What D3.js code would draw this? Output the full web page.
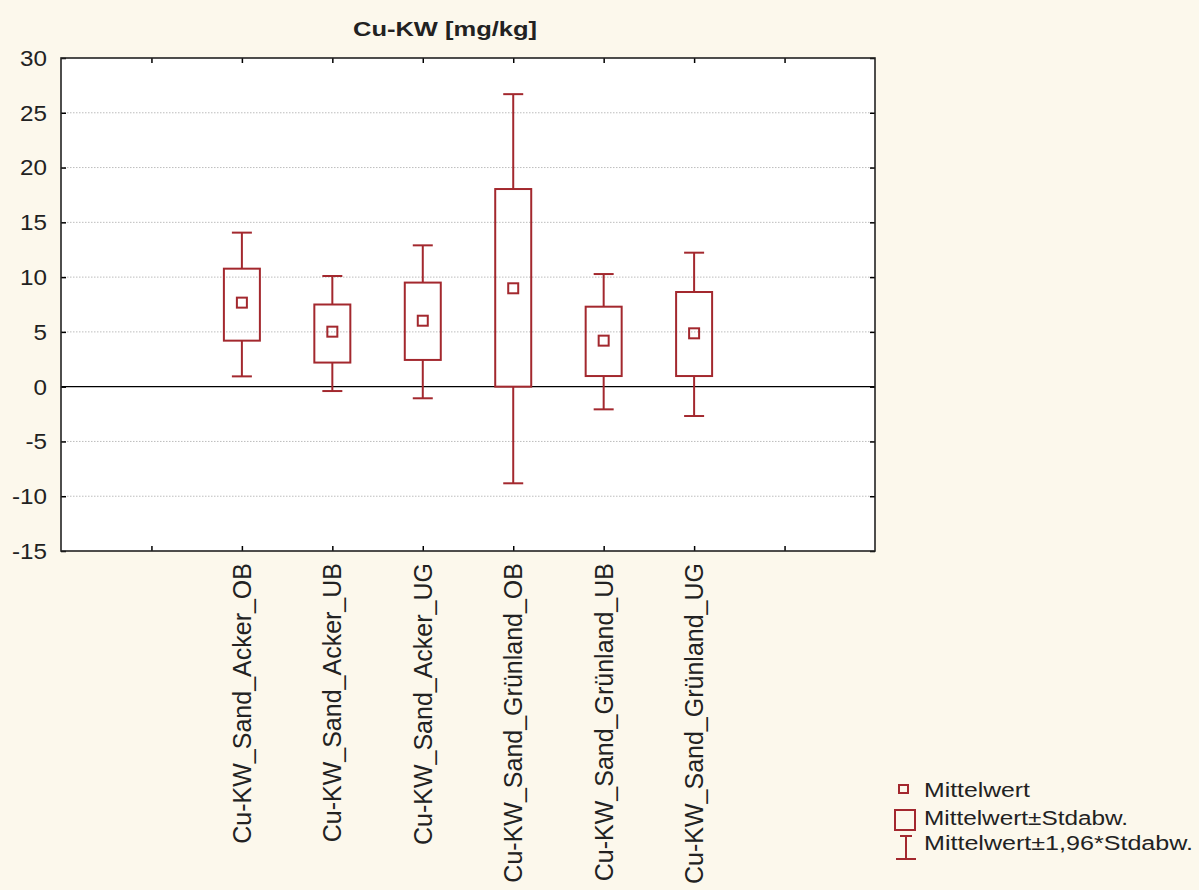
<!DOCTYPE html>
<html>
<head>
<meta charset="utf-8">
<script src="https://cdn.jsdelivr.net/npm/d3@7"></script>
<style>
  html, body { margin: 0; padding: 0; background: #fcf8ec; }
  svg { display: block; }
  text { font-family: "Liberation Sans", Arial, sans-serif; fill: #222; }
</style>
</head>
<body>
<svg id="chart" width="1199" height="890"></svg>
<script>
const categories = [
  "Cu-KW_Sand_Acker_OB",
  "Cu-KW_Sand_Acker_UB",
  "Cu-KW_Sand_Acker_UG",
  "Cu-KW_Sand_Grünland_OB",
  "Cu-KW_Sand_Grünland_UB",
  "Cu-KW_Sand_Grünland_UG"
];
const means  = [7.67, 5.02, 6.02, 8.98, 4.2, 4.87];
const sdLow  = [4.2, 2.2, 2.44, 0.0, 0.97, 0.97];
const sdHigh = [10.77, 7.5, 9.5, 18.04, 7.3, 8.64];
const ciLow  = [0.94, -0.4, -1.06, -8.82, -2.07, -2.68];
const ciHigh = [14.06, 10.1, 12.9, 26.7, 10.28, 12.23];
const yTicks = [-15, -10, -5, 0, 5, 10, 15, 20, 25, 30];
const xSlots = [1, 2, 3, 4, 5, 6, 7, 8];
const title = "Cu-KW [mg/kg]";
const legendLabels = ["Mittelwert", "Mittelwert±Stdabw.", "Mittelwert±1,96*Stdabw."];

const color = "#a3282e";
const L = 61, R = 875, T = 58, B = 551;
const svg = d3.select("#chart");

const x = d3.scaleLinear().domain([0, 9]).range([L, R]);
const y = d3.scaleLinear().domain([-15, 30]).range([B, T]);

// plot background
svg.append("rect").attr("x", L).attr("y", T).attr("width", R - L).attr("height", B - T).attr("fill", "#ffffff");

// grid lines
svg.append("g").selectAll("line").data(yTicks.filter(v => v !== 0 && v !== 30 && v !== -15)).join("line")
  .attr("x1", L).attr("x2", R).attr("y1", d => y(d)).attr("y2", d => y(d))
  .attr("stroke", "#bdbdbd").attr("stroke-width", 1).attr("stroke-dasharray", "1.5,1.5");

// zero line
svg.append("line").attr("x1", L).attr("x2", R).attr("y1", y(0)).attr("y2", y(0))
  .attr("stroke", "#000").attr("stroke-width", 1.2);

// axes with inward ticks
const yLeft = d3.axisLeft(y).tickValues(yTicks).tickSize(-5).tickFormat("");
const yRight = d3.axisRight(y).tickValues(yTicks).tickSize(-5).tickFormat("");
const xTop = d3.axisTop(x).tickValues(xSlots).tickSize(-5).tickFormat("");
const xBottom = d3.axisBottom(x).tickValues(xSlots).tickSize(-5).tickFormat("");
function styleAxis(g) {
  g.select(".domain").remove();
  g.selectAll(".tick line").attr("stroke", "#000").attr("stroke-width", 1.5);
}
svg.append("g").attr("transform", `translate(${L},0)`).call(yLeft).call(styleAxis);
svg.append("g").attr("transform", `translate(${R},0)`).call(yRight).call(styleAxis);
svg.append("g").attr("transform", `translate(0,${T})`).call(xTop).call(styleAxis);
svg.append("g").attr("transform", `translate(0,${B})`).call(xBottom).call(styleAxis);

// frame
svg.append("rect").attr("x", L).attr("y", T).attr("width", R - L).attr("height", B - T)
  .attr("fill", "none").attr("stroke", "#222").attr("stroke-width", 1.6);

// y tick labels
svg.append("g").selectAll("text").data(yTicks).join("text")
  .attr("transform", d => `translate(47,${y(d)}) scale(1.1,1)`)
  .attr("text-anchor", "end").attr("dy", "0.36em")
  .style("font-size", "22px")
  .text(d => d);

// x labels rotated
svg.append("g").selectAll("text").data(categories).join("text")
  .attr("transform", (d, i) => `translate(${x(i + 2)},563) rotate(-90)`)
  .attr("text-anchor", "end").attr("dy", "0.36em")
  .style("font-size", "25px")
  .text(d => d);

// boxes
const boxW = 36, capW = 20, meanS = 10;
const g = svg.append("g").attr("stroke", color).attr("fill", "none").attr("stroke-width", 2);
categories.forEach((c, i) => {
  const cx = x(i + 2);
  g.append("line").attr("x1", cx).attr("x2", cx).attr("y1", y(ciHigh[i])).attr("y2", y(sdHigh[i]));
  g.append("line").attr("x1", cx).attr("x2", cx).attr("y1", y(sdLow[i])).attr("y2", y(ciLow[i]));
  g.append("line").attr("x1", cx - capW / 2).attr("x2", cx + capW / 2).attr("y1", y(ciHigh[i])).attr("y2", y(ciHigh[i]));
  g.append("line").attr("x1", cx - capW / 2).attr("x2", cx + capW / 2).attr("y1", y(ciLow[i])).attr("y2", y(ciLow[i]));
  g.append("rect").attr("x", cx - boxW / 2).attr("width", boxW)
    .attr("y", y(sdHigh[i])).attr("height", y(sdLow[i]) - y(sdHigh[i]));
  g.append("rect").attr("x", cx - meanS / 2).attr("y", y(means[i]) - meanS / 2)
    .attr("width", meanS).attr("height", meanS);
});

// title
svg.append("text").attr("x", 445).attr("y", 36).attr("text-anchor", "middle")
  .attr("textLength", 184).attr("lengthAdjust", "spacingAndGlyphs")
  .style("font-size", "21px").style("font-weight", "bold").text(title);

// legend
const lg = svg.append("g");
const ls = lg.append("g").attr("stroke", color).attr("fill", "none").attr("stroke-width", 2);
ls.append("rect").attr("x", 899).attr("y", 785).attr("width", 9).attr("height", 8);
ls.append("rect").attr("x", 895).attr("y", 810).attr("width", 20).attr("height", 20);
ls.append("line").attr("x1", 906).attr("x2", 906).attr("y1", 836).attr("y2", 859);
ls.append("line").attr("x1", 900).attr("x2", 912).attr("y1", 836).attr("y2", 836);
ls.append("line").attr("x1", 896).attr("x2", 916).attr("y1", 859).attr("y2", 859);
const legendY = [797, 825, 850];
const legendW = [106, 204, 269];
lg.selectAll("text").data(legendLabels).join("text")
  .attr("x", 924).attr("y", (d, i) => legendY[i])
  .attr("textLength", (d, i) => legendW[i]).attr("lengthAdjust", "spacingAndGlyphs")
  .style("font-size", "19.5px").text(d => d);
</script>
</body>
</html>
